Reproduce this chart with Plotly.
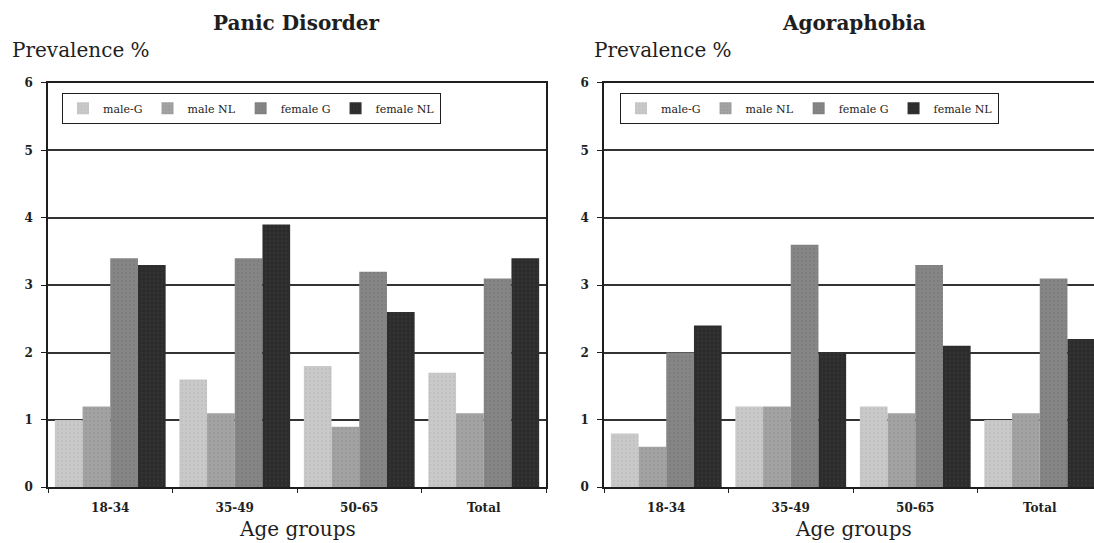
import plotly.graph_objects as go

# Age-group categories and prevalence (%) per subgroup
age_groups = ["18-34", "35-49", "50-65", "Total"]
series_names = ["male-G", "male NL", "female G", "female NL"]

panic_male_g = [1.0, 1.6, 1.8, 1.7]
panic_male_nl = [1.2, 1.1, 0.9, 1.1]
panic_female_g = [3.4, 3.4, 3.2, 3.1]
panic_female_nl = [3.3, 3.9, 2.6, 3.4]

agora_male_g = [0.8, 1.2, 1.2, 1.0]
agora_male_nl = [0.6, 1.2, 1.1, 1.1]
agora_female_g = [2.0, 3.6, 3.3, 3.1]
agora_female_nl = [2.4, 2.0, 2.1, 2.2]

y_ticks = [0, 1, 2, 3, 4, 5, 6]

fills = ["#c9c9c9", "#a3a3a3", "#858585", "#2c2c2c"]
dots = ["#b5b5b5", "#8e8e8e", "#737373", "#3c3c3c"]

W, H = 1094, 543
SERIF = "DejaVu Serif"
INK = "#1e1e1e"

fig = go.Figure()

panel_data = [
    ("x", "y", "legend", [panic_male_g, panic_male_nl, panic_female_g, panic_female_nl]),
    ("x2", "y2", "legend2", [agora_male_g, agora_male_nl, agora_female_g, agora_female_nl]),
]
for xa, ya, lg, series in panel_data:
    for name, vals, fc, dc in zip(series_names, series, fills, dots):
        fig.add_trace(go.Bar(
            x=age_groups, y=vals, name=name,
            xaxis=xa, yaxis=ya, legend=lg,
            marker=dict(color=fc, line=dict(width=0),
                        pattern=dict(shape=".", fgcolor=dc, size=4, solidity=0.25)),
        ))

def px_x(p):
    return p / W

def px_y(p):
    return 1 - p / H

y_dom = [px_y(493), px_y(78)]

common_x = dict(
    type="category", showline=True, linecolor=INK, linewidth=1.5, mirror=True,
    ticks="outside", tickson="boundaries", ticklen=4, tickcolor=INK, tickwidth=1,
    tickfont=dict(family=SERIF, size=12, color=INK, weight="bold"),
    ticklabelstandoff=9,
    showgrid=False, zeroline=False, fixedrange=True,
)
common_y = dict(
    range=[0, 6], tickvals=y_ticks, showline=True, linecolor=INK, linewidth=1.5,
    ticks="outside", ticklen=5, tickcolor=INK, tickwidth=1,
    tickfont=dict(family=SERIF, size=12, color=INK, weight="bold"),
    ticklabelstandoff=6,
    showgrid=True, gridcolor="#333333", gridwidth=1.5, zeroline=False,
    domain=y_dom,
)

legend_style = dict(
    orientation="h", xanchor="left", yanchor="top",
    bordercolor=INK, borderwidth=1, bgcolor="white",
    font=dict(family=SERIF, size=11, color="#222222"),
    itemwidth=30, tracegroupgap=0,
)

fig.update_layout(
    width=W, height=H,
    margin=dict(l=0, r=0, t=0, b=0),
    paper_bgcolor="white", plot_bgcolor="white",
    barmode="group", bargap=0.11, bargroupgap=0,
    xaxis=dict(common_x, domain=[px_x(48), px_x(546)], range=[-0.5, 3.5], anchor="y"),
    yaxis=dict(common_y, mirror=True, anchor="x"),
    xaxis2=dict(common_x, domain=[px_x(604), 1.0],
                range=[-0.5, -0.5 + (W - 604) / 124.5], anchor="y2"),
    yaxis2=dict(common_y, mirror=False, anchor="x2"),
    legend=dict(legend_style, x=px_x(62), y=px_y(88)),
    legend2=dict(legend_style, x=px_x(620), y=px_y(88)),
    showlegend=True,
)

def label(text, x, y, size, bold=False, xanchor="center"):
    fig.add_annotation(
        text=text, x=px_x(x), y=px_y(y), xref="paper", yref="paper",
        xanchor=xanchor, yanchor="middle", showarrow=False,
        font=dict(family=SERIF, size=size, color=INK, weight="bold" if bold else "normal"),
    )

label("Panic Disorder", 296, 16, 20, bold=True)
label("Agoraphobia", 854, 16, 20, bold=True)
label("Prevalence %", 10, 44, 20, xanchor="left")
label("Prevalence %", 592, 44, 20, xanchor="left")
label("Age groups", 297, 536, 20)
label("Age groups", 853, 536, 20)

fig.write_html("out.html")
